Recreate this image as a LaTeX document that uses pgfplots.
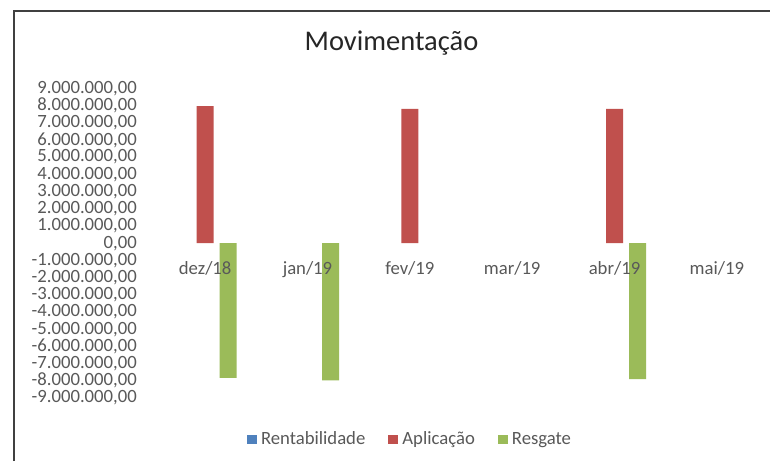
\documentclass[border=0pt]{standalone}
\usepackage{pgfplots}
\pgfplotsset{compat=1.18}
\usepackage{fontspec}
\setmainfont{Carlito}
\definecolor{cblue}{HTML}{4F81BD}
\definecolor{cred}{HTML}{C0504D}
\definecolor{cgreen}{HTML}{9BBB59}
\definecolor{ctext}{HTML}{595959}
\definecolor{cgrid}{HTML}{D9D9D9}
\pgfplotsset{
  layers/labelsontop/.define layer set={
    axis background,axis grid,axis ticks,axis lines,pre main,main,axis tick labels,axis descriptions,axis foreground
  }{
    grid style={/pgfplots/on layer=axis grid},
    tick style={/pgfplots/on layer=axis ticks},
    axis line style={/pgfplots/on layer=axis lines},
    label style={/pgfplots/on layer=axis descriptions},
    legend style={/pgfplots/on layer=axis descriptions},
    title style={/pgfplots/on layer=axis descriptions},
    ticklabel style={/pgfplots/on layer=axis tick labels},
    axis background@ style={/pgfplots/on layer=axis background},
  },
}
\begin{document}
\begin{tikzpicture}[x=1pt,y=1pt]
\fill[white] (0,0) rectangle (771,462);
\draw[line width=1.5pt, color=black!75] (14,0.75) -- (14,451) -- (770.25,451);
\node[anchor=base, font=\fontsize{28.5}{28.5}\selectfont, text=black!85, inner sep=0pt] at (391.5,411) {Movimentação};
\begin{axis}[
  set layers=labelsontop,
  at={(154pt,64pt)}, anchor=south west,
  scale only axis, width=614pt, height=309.7pt,
  xmin=-0.5, xmax=5.5, ymin=-9000000, ymax=9000000,
  ytick={-9000000,-8000000,-7000000,-6000000,-5000000,-4000000,-3000000,-2000000,-1000000,0,1000000,2000000,3000000,4000000,5000000,6000000,7000000,8000000,9000000},
  scaled y ticks=false,
  /pgf/number format/assume math mode=true,
  y tick label style={/pgf/number format/fixed, /pgf/number format/fixed zerofill, /pgf/number format/precision=2, /pgf/number format/1000 sep={.}, /pgf/number format/use comma},
  ymajorgrids, major grid style={cgrid, line width=1pt},
  axis line style={draw=none}, major tick length=0pt, tick style={draw=none},
  xtick={0,1,2,3,4,5},
  xticklabels={dez/18,jan/19,fev/19,mar/19,abr/19,mai/19},
  xticklabel style={anchor=base, yshift=123pt, inner sep=0pt},
  yticklabel style={anchor=east, inner sep=0pt, xshift=-17pt},
  tick label style={font=\fontsize{18.7}{18.7}\selectfont, text=ctext},
  legend style={at={(0.1515,-0.1292)}, anchor=west, draw=none, fill=none,
    inner sep=0pt, outer sep=0pt,
    nodes={inner sep=0pt, outer sep=0pt, text depth=0pt, text height=13pt},
    font=\fontsize{18.7}{18.7}\selectfont, text=ctext, legend columns=3,
    /tikz/every odd column/.append style={column sep=4pt},
    /tikz/every even column/.append style={column sep=23pt}},
]
\addplot[ybar, bar width=17pt, bar shift=-23pt, fill=cblue, fill opacity=0, draw=none,
  legend image code/.code={\fill[cblue, fill opacity=1] (0pt,-6pt) rectangle (10pt,3pt);}]
  coordinates {(0,0) (1,0) (2,0) (3,0) (4,0) (5,0)};
\addlegendentry{Rentabilidade}
\addplot[ybar, bar width=17pt, bar shift=0pt, fill=cred, draw=none,
  y filter/.expression={y==0 ? nan : y},
  legend image code/.code={\fill[cred] (0pt,-6pt) rectangle (10pt,3pt);}]
  coordinates {(0,7960000) (1,0) (2,7810000) (3,0) (4,7810000) (5,0)};
\addlegendentry{Aplicação}
\addplot[ybar, bar width=17pt, bar shift=23pt, fill=cgreen, draw=none,
  y filter/.expression={y==0 ? nan : y},
  legend image code/.code={\fill[cgreen] (0pt,-6pt) rectangle (10pt,3pt);}]
  coordinates {(0,-7830000) (1,-7970000) (2,0) (3,0) (4,-7900000) (5,0)};
\addlegendentry{Resgate}
\end{axis}
\end{tikzpicture}
\end{document}
